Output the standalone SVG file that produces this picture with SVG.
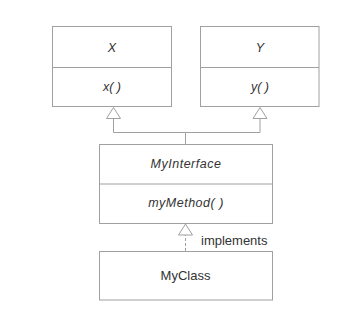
<svg xmlns="http://www.w3.org/2000/svg" width="341" height="324" viewBox="0 0 341 324">
<style>
.box{fill:#fff;stroke:#a0a0a0;stroke-width:1}
.ln{fill:none;stroke:#a0a0a0;stroke-width:1}
.tri{fill:#fff;stroke:#a0a0a0;stroke-width:1}
text{font-family:"Liberation Sans",Arial,sans-serif;font-size:12.5px;fill:#333;text-anchor:middle}
.it{font-style:italic}
</style>
<rect width="341" height="324" fill="#fff"/>
<g id="connectors">
<path class="ln" d="M185.5 144V132.5H113.5V118M185.5 132.5H260V118"/>
<path class="ln" d="M185.5 251V235" stroke-dasharray="3,2"/>
<polygon class="tri" points="113.5,107.5 106.5,118.5 120.5,118.5"/>
<polygon class="tri" points="260,107.5 253,118.5 267,118.5"/>
<polygon class="tri" points="185.5,224 178.5,235 192.5,235"/>
<text x="201" y="244.5" style="text-anchor:start;font-size:13px">implements</text>
</g>
<g id="X">
<rect class="box" x="52.5" y="26.5" width="119" height="80"/>
<path class="ln" d="M52.5 67.5H171.5"/>
<text class="it" x="112" y="51.5">X</text>
<text class="it" x="112" y="90.5">x( )</text>
</g>
<g id="Y">
<rect class="box" x="200.5" y="26.5" width="118.5" height="80"/>
<path class="ln" d="M200.5 67.5H319"/>
<text class="it" x="260" y="51.5">Y</text>
<text class="it" x="260" y="90.5">y( )</text>
</g>
<g id="MyInterface">
<rect class="box" x="99.5" y="144.5" width="173" height="79"/>
<path class="ln" d="M99.5 184H272.5"/>
<text class="it" x="186" y="167.5" style="letter-spacing:0.5px">MyInterface</text>
<text class="it" x="186" y="206.5" style="letter-spacing:0.5px">myMethod( )</text>
</g>
<g id="MyClass">
<rect class="box" x="99.5" y="251.5" width="173" height="48.5"/>
<text x="185.5" y="279.5" style="font-size:13px">MyClass</text>
</g>
</svg>
